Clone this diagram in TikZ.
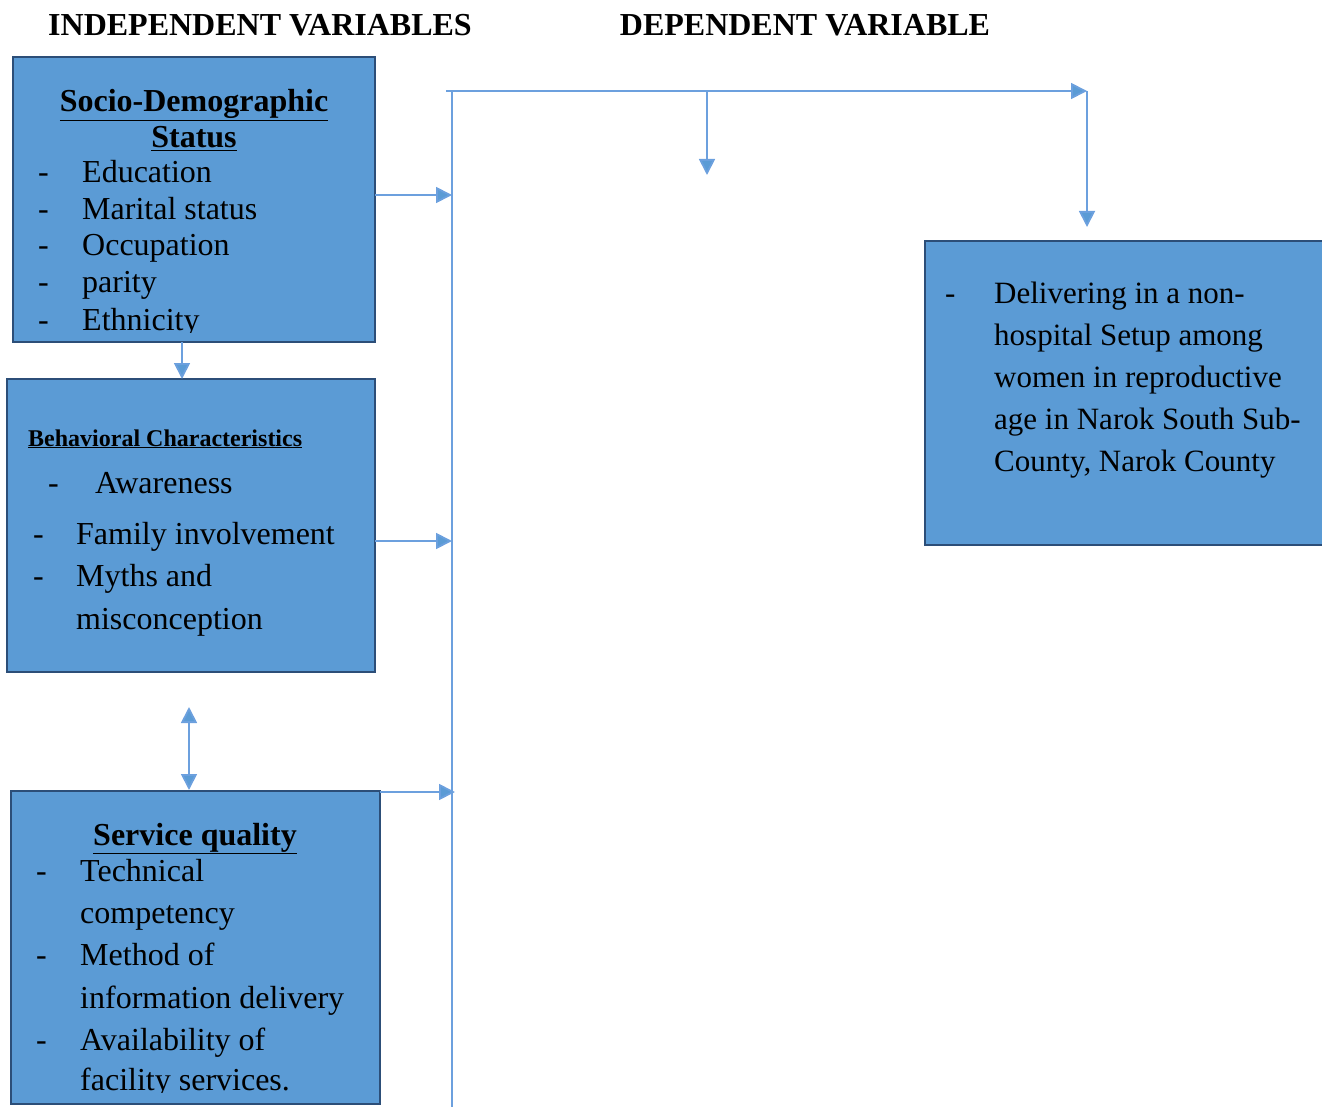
\documentclass[tikz,border=0pt]{standalone}
\usepackage{fontspec}
\setmainfont{Liberation Serif}
\usepackage{tkz-euclide}
\usetikzlibrary{arrows.meta}
\definecolor{boxfill}{RGB}{91,155,213}
\definecolor{boxline}{RGB}{44,78,120}
\definecolor{linkblue}{RGB}{108,160,222}
\tikzset{>={Triangle[length=16pt,width=16pt,fill=boxfill]}}
\tikzset{box/.style={draw=boxline, line width=2.5pt, fill=boxfill, inner sep=0pt},
  link/.style={draw=linkblue, line width=1.8pt},
  txt/.style={anchor=base west, inner sep=0pt, font=\fontsize{32}{37}\selectfont},
  head/.style={anchor=base, inner sep=0pt, font=\fontsize{32}{37}\selectfont\bfseries},
  smallhead/.style={anchor=base west, inner sep=0pt, font=\fontsize{24}{28}\selectfont\bfseries}}

\begin{document}
\begin{tikzpicture}[x=1pt,y=-1pt]
\useasboundingbox (0,0) rectangle (1322,1107);
% headings
\node[head] (indep) at (260,36) {INDEPENDENT VARIABLES};
\node[head] (dep) at (805,36) {DEPENDENT VARIABLE};
% boxes
\node[box, minimum width=362pt, minimum height=285pt] (socio) at (194,199.5) {};
\node[box, minimum width=368pt, minimum height=293pt] (behav) at (191,525.5) {};
\node[box, minimum width=369pt, minimum height=313pt] (service) at (195.5,947.5) {};
\node[box, minimum width=415pt, minimum height=304pt] (outcome) at (1132.5,393) {};
% socio-demographic
\begin{scope}
\clip (13,57) rectangle (375,332);
\node[head] (sociot1) at (194,112) {\underline{Socio-Demographic}};
\node[head] (sociot2) at (194,148) {\underline{Status}};
\foreach \yy/\tt [count=\i] in {183/Education, 220/Marital status, 256/Occupation, 293/parity, 330/Ethnicity}{
  \node[txt] (sd\i) at (38,\yy) {-};
  \node[txt] (si\i) at (82,\yy) {\tt};
}
\end{scope}
% behavioral
\node[smallhead] (behavt) at (28,446) {\underline{Behavioral Characteristics}};
\node[txt] (bd1) at (48,493) {-};
\node[txt] (bi1) at (95,493) {Awareness};
\node[txt] (bd2) at (33,544) {-};
\node[txt] (bi2) at (76,544) {Family involvement};
\node[txt] (bd3) at (33,586) {-};
\node[txt] (bi3) at (76,586) {Myths and};
\node[txt] (bi4) at (76,629) {misconception};
% service quality
\begin{scope}
\clip (11,791) rectangle (380,1092);
\node[head] (servicet) at (195,845) {\underline{Service quality}};
\foreach \xx/\yy/\tt [count=\i] in {36/881/-, 36/965/-, 36/1050/-}{
  \node[txt] (qd\i) at (\xx,\yy) {\tt};
}
\foreach \yy/\tt [count=\i] in {881/Technical, 923/competency, 965/Method of, 1008/information delivery, 1050/Availability of, 1090/facility services.}{
  \node[txt] (qi\i) at (80,\yy) {\tt};
}
\end{scope}
% outcome
\node[txt, font=\fontsize{31}{37}\selectfont] (od1) at (945,303) {-};
\foreach \yy/\tt [count=\i] in {303/Delivering in a non-, 345/hospital Setup among, 387/women in reproductive, 429/age in Narok South Sub-, 471/{County, Narok County}}{
  \node[txt, font=\fontsize{31}{37}\selectfont] (oi\i) at (994,\yy) {\tt};
}
% connectors
\tkzDefPoints{446/91/T, 452/91/V, 452/1107/W, 707/91/M, 707/175/Ma, 1087/91/R, 1087/227/Ra}
\tkzDefPoints{375/195/S, 452/195/Se, 375/541/B, 452/541/Be, 380/792/Q, 455/792/Qe}
\tkzDefPoints{182/342/D, 182/379/De, 189/707/U, 189/790/Ue}
\draw[link] (V) -- (W);
\foreach \p/\q in {T/R, R/Ra, M/Ma, S/Se, B/Be, Q/Qe, D/De}
  \draw[link,->] (\p) -- (\q);
\draw[link,<->] (U) -- (Ue);
\end{tikzpicture}
\end{document}
